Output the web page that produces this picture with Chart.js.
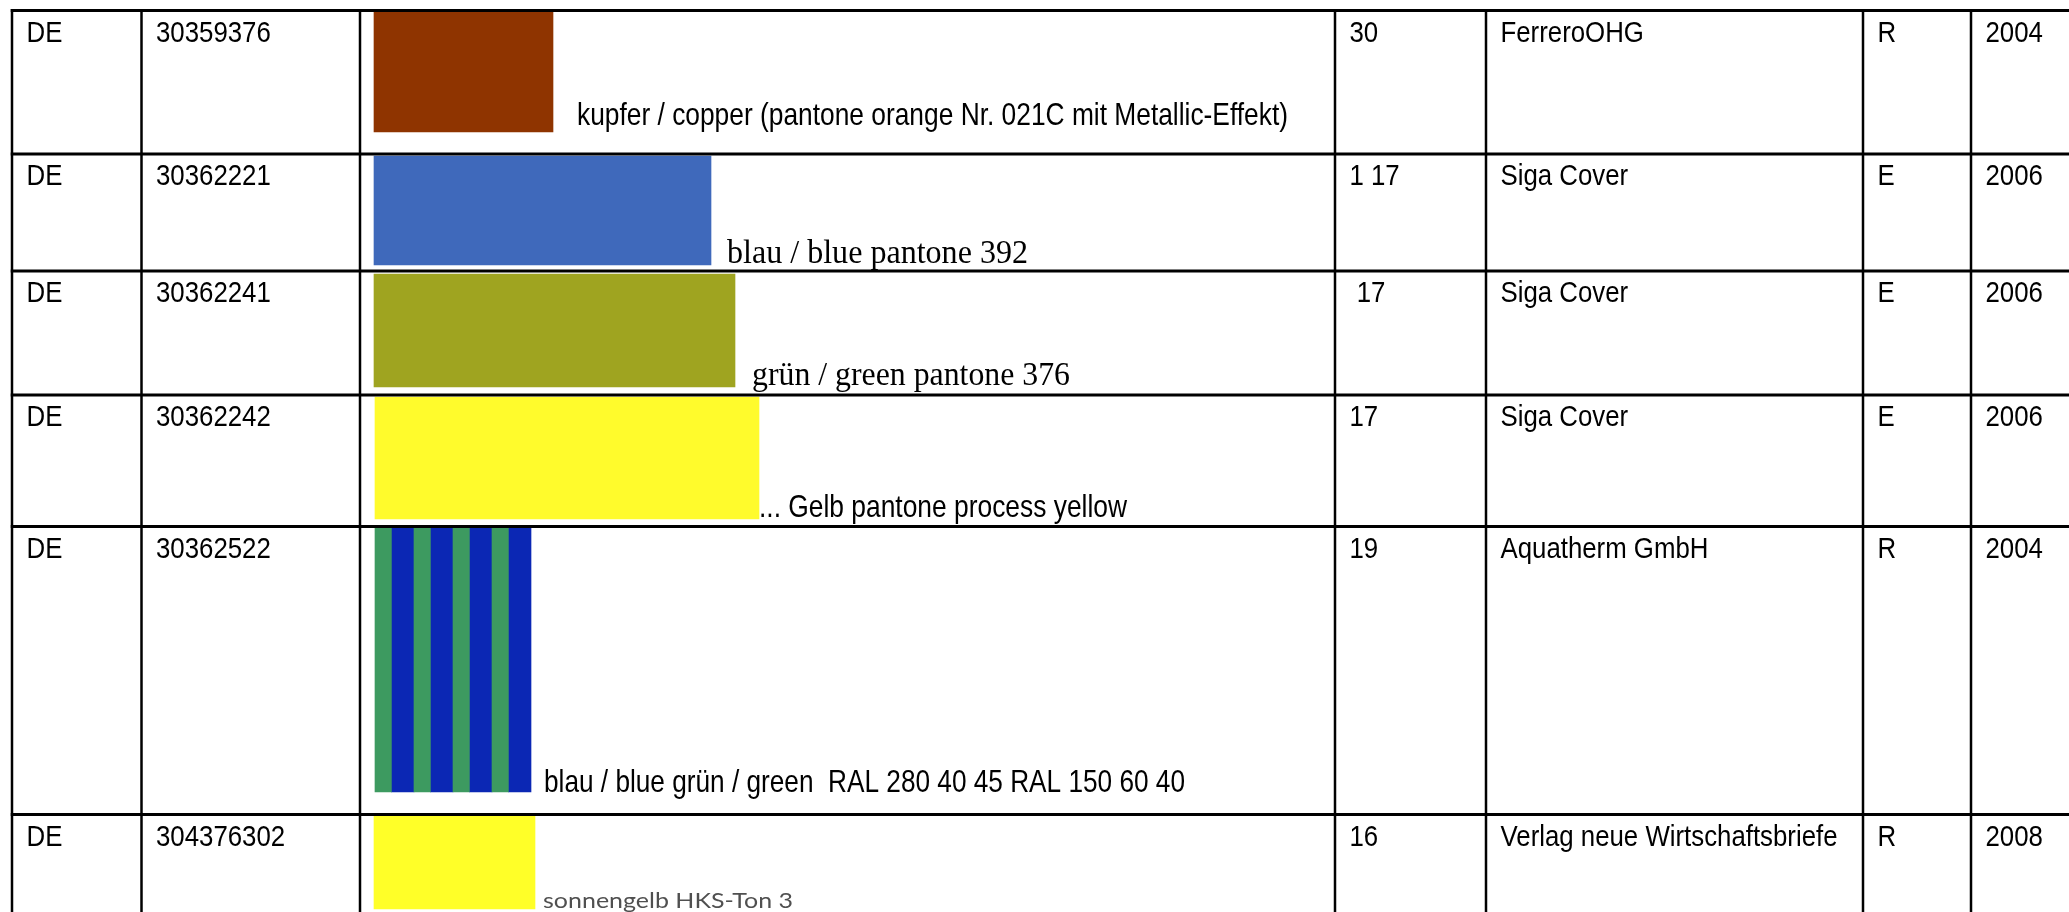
<!DOCTYPE html>
<html>
<head>
<meta charset="UTF-8">
<title>Farbmarken</title>
<script src="https://cdn.jsdelivr.net/npm/chart.js"></script>
<style>
  html, body { margin: 0; padding: 0; background: #fff; }
  .wrap { width: 2069px; height: 912px; position: relative; }
</style>
</head>
<body>
<div class="wrap"><canvas id="tableChart"></canvas></div>
<script>
// table contents
const countries = ['DE', 'DE', 'DE', 'DE', 'DE', 'DE'];
const regNumbers = ['30359376', '30362221', '30362241', '30362242', '30362522', '304376302'];
const classes = ['30', '1 17', ' 17', '17', '19', '16'];
const owners = ['FerreroOHG', 'Siga Cover', 'Siga Cover', 'Siga Cover', 'Aquatherm GmbH', 'Verlag neue Wirtschaftsbriefe'];
const kinds = ['R', 'E', 'E', 'E', 'R', 'R'];
const years = ['2004', '2006', '2006', '2006', '2004', '2008'];
const colourNames = [
  'kupfer / copper (pantone orange Nr. 021C mit Metallic-Effekt)',
  'blau / blue pantone 392',
  'grün / green pantone 376',
  '... Gelb pantone process yellow',
  'blau / blue grün / green  RAL 280 40 45 RAL 150 60 40',
  'sonnengelb HKS-Ton 3'
];
const swatchColours = [
  ['#8f3400'],
  ['#3f69bb'],
  ['#9fa420'],
  ['#fffb2c'],
  ['#3d9a60', '#0b27b4'],
  ['#ffff28']
];

// layout, in page pixels (scales map 1 unit = 1 px)
const W = 2069, H = 912;
const colEdges = [12, 141.5, 360, 1335, 1486, 1863, 1971];
const rowEdges = [10.5, 154, 271, 395, 526.5, 814.5];
const swatchBoxes = [
  [374, 553, 11, 132],
  [374, 711, 156, 265],
  [374, 735, 274, 387],
  [375, 759, 397, 519],
  [375, 531, 528, 792],
  [374, 535, 816, 909]
];
const stripeCount = 8;
const cellFont = '30px "Liberation Sans", Arial, sans-serif';
const cellSqueeze = 0.86;
const labelSpots = [
  { x: 577, y: 125, w: 711, font: '32px "Liberation Sans", Arial, sans-serif', color: '#000' },
  { x: 727, y: 263, w: 301, font: '33px "Liberation Serif", "Times New Roman", serif', color: '#000' },
  { x: 752, y: 385, w: 318, font: '33px "Liberation Serif", "Times New Roman", serif', color: '#000' },
  { x: 759, y: 517, w: 368, font: '32px "Liberation Sans", Arial, sans-serif', color: '#000' },
  { x: 544, y: 792, w: 641, font: '32px "Liberation Sans", Arial, sans-serif', color: '#000' },
  { x: 543, y: 908, w: 250, font: '22px Lato, "Noto Sans", sans-serif', color: '#505050' }
];

// one floating bar dataset per swatch colour
const datasets = [];
swatchBoxes.forEach((box, i) => {
  const [x0, x1, y0, y1] = box;
  const cols = swatchColours[i];
  if (cols.length === 1) {
    datasets.push({
      data: [{ y: (y0 + y1) / 2, x: [x0, x1] }],
      backgroundColor: cols[0],
      barThickness: y1 - y0,
      stack: 'sw'
    });
  } else {
    // striped swatch: green / blue pairs
    const pair = (x1 - x0) / (stripeCount / 2);
    const greenW = pair * 0.42;
    const greens = [], blues = [];
    for (let k = 0; k < stripeCount / 2; k++) {
      const s = x0 + k * pair;
      greens.push({ y: (y0 + y1) / 2, x: [s, s + greenW] });
      blues.push({ y: (y0 + y1) / 2, x: [s + greenW, s + pair] });
    }
    datasets.push({ data: greens, backgroundColor: cols[0], barThickness: y1 - y0, stack: 'sw' });
    datasets.push({ data: blues, backgroundColor: cols[1], barThickness: y1 - y0, stack: 'sw' });
  }
});

function squeezedText(ctx, text, x, y, sx) {
  ctx.save();
  ctx.translate(x, y);
  ctx.scale(sx, 1);
  ctx.fillText(text, 0, 0);
  ctx.restore();
}

const tablePlugin = {
  id: 'tablePlugin',
  afterDatasetsDraw(chart) {
    const { ctx, scales: { x, y } } = chart;
    const px = v => x.getPixelForValue(v);
    const py = v => y.getPixelForValue(v);
    ctx.save();
    ctx.strokeStyle = '#000';

    // horizontal rules
    ctx.lineWidth = 3;
    rowEdges.forEach(r => {
      ctx.beginPath();
      ctx.moveTo(px(colEdges[0]) - 1.25, py(r));
      ctx.lineTo(px(W), py(r));
      ctx.stroke();
    });
    // vertical rules
    ctx.lineWidth = 2.5;
    colEdges.forEach(c => {
      ctx.beginPath();
      ctx.moveTo(px(c), py(rowEdges[0]) - 1.5);
      ctx.lineTo(px(c), py(H));
      ctx.stroke();
    });

    // cell texts
    const columns = [countries, regNumbers, null, classes, owners, kinds, years];
    ctx.textBaseline = 'alphabetic';
    ctx.textAlign = 'left';
    for (let i = 0; i < countries.length; i++) {
      ctx.font = cellFont;
      ctx.fillStyle = '#000';
      columns.forEach((col, c) => {
        if (!col) return;
        squeezedText(ctx, col[i], px(colEdges[c] + 14.5), py(rowEdges[i] + 31), cellSqueeze);
      });

      // colour description next to the swatch
      const s = labelSpots[i];
      ctx.font = s.font;
      ctx.fillStyle = s.color;
      const natural = ctx.measureText(colourNames[i]).width;
      squeezedText(ctx, colourNames[i], px(s.x), py(s.y), s.w / natural);
    }
    ctx.restore();
  }
};

new Chart(document.getElementById('tableChart'), {
  type: 'bar',
  data: { datasets },
  options: {
    indexAxis: 'y',
    responsive: true,
    maintainAspectRatio: false,
    animation: false,
    layout: { padding: 0 },
    scales: {
      x: { type: 'linear', min: 0, max: W, display: false, stacked: false, offset: false, grace: 0 },
      y: { type: 'linear', min: 0, max: H, reverse: true, display: false, offset: false, grace: 0 }
    },
    plugins: { legend: { display: false }, tooltip: { enabled: false } }
  },
  plugins: [tablePlugin]
});
</script>
</body>
</html>
